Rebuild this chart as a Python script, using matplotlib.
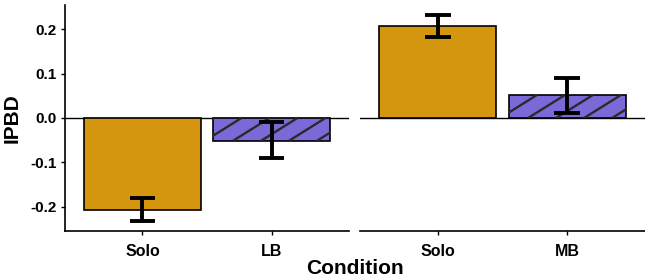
import matplotlib.pyplot as plt
import numpy as np

plt.rcParams["font.family"] = ["Liberation Sans", "DejaVu Sans"]
plt.rcParams["font.weight"] = "bold"

# Data: two facets, each with Solo vs. partner condition
panels = [["Solo", "LB"], ["Solo", "MB"]]
means = [[-0.207, -0.051], [0.208, 0.052]]
err_low = [[-0.233, -0.090], [0.183, 0.012]]
err_high = [[-0.181, -0.010], [0.232, 0.091]]
yticks = [-0.2, -0.1, 0.0, 0.1, 0.2]

gold = "#D4960E"
purple = "#7B69D8"

W, H = 645, 278
fig = plt.figure(figsize=(W / 100, H / 100), dpi=100)
ax_l = fig.add_axes([65 / W, 47 / H, (349 - 65) / W, (231 - 5) / H])
ax_r = fig.add_axes([360 / W, 47 / H, (645 - 360) / W, (231 - 5) / H])


def hatch_bar(ax, bar):
    # diagonal stripes clipped to the bar (30 degree, like ggpattern)
    x0, y0 = bar.get_x(), bar.get_y()
    w, h = bar.get_width(), bar.get_height()
    trans = ax.transData
    p0 = trans.transform((x0, min(y0, y0 + h)))
    p1 = trans.transform((x0 + w, max(y0, y0 + h)))
    slope = np.tan(np.radians(32))
    step = 28
    inv = trans.inverted()
    run = (p1[1] - p0[1]) / slope
    for xs in np.arange(p0[0] - run, p1[0] + step, step):
        a = inv.transform((xs, p0[1]))
        b = inv.transform((xs + run, p1[1]))
        ln, = ax.plot([a[0], b[0]], [a[1], b[1]], color="#2a2a2a", lw=1.7,
                      solid_capstyle="butt", zorder=2.5)
        ln.set_clip_path(bar)


for i, ax in enumerate([ax_l, ax_r]):
    ax.set_xlim(0.4, 2.6)
    ax.set_ylim(-0.255, 0.255)
    x = np.arange(1, 3)
    bars = ax.bar(x, means[i], width=0.9, color=[gold, purple],
                  edgecolor="black", linewidth=1.2, zorder=2)
    ax.axhline(0, color="black", lw=1.0, zorder=1)
    for j in range(2):
        ax.plot([x[j], x[j]], [err_low[i][j], err_high[i][j]], color="black",
                lw=2.8, zorder=4, solid_capstyle="butt")
        for yy in (err_low[i][j], err_high[i][j]):
            ax.plot([x[j] - 0.1, x[j] + 0.1], [yy, yy], color="black",
                    lw=2.8, zorder=4, solid_capstyle="butt")
    ax.set_xticks(x)
    ax.set_xticklabels(panels[i], fontsize=11.5, fontweight="bold")
    ax.tick_params(axis="x", length=3, width=1, pad=6)
    for s in ["top", "right"]:
        ax.spines[s].set_visible(False)
    ax.spines["bottom"].set_linewidth(1.2)
    ax.spines["left"].set_linewidth(1.2)
    fig.canvas.draw()
    hatch_bar(ax, bars[1])

ax_l.set_yticks(yticks)
ax_l.set_yticklabels(["-0.2", "-0.1", "0.0", "0.1", "0.2"], fontsize=11,
                     fontweight="bold")
ax_l.tick_params(axis="y", length=3, width=1, pad=3)

ax_r.spines["left"].set_visible(False)
ax_r.set_yticks([])

fig.text(12 / W, 1 - 118 / H, "IPBD", ha="center", va="center",
         rotation=90, fontsize=15, fontweight="bold")
fig.text(355 / W, 1 - 268 / H, "Condition", ha="center", va="center",
         fontsize=15, fontweight="bold")

fig.savefig("out.png", dpi=100)
